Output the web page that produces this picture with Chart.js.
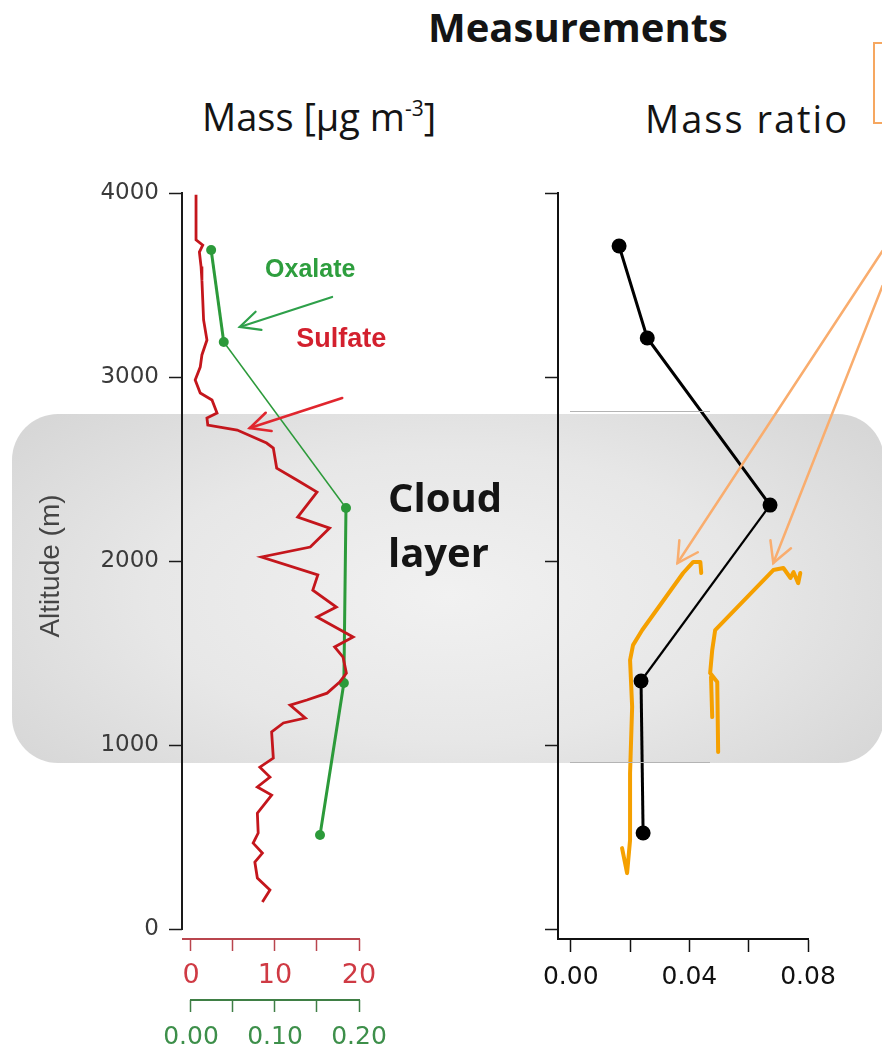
<!DOCTYPE html>
<html>
<head>
<meta charset="utf-8">
<script src="https://cdn.jsdelivr.net/npm/chart.js@4.4.1/dist/chart.umd.min.js"></script>
<style>
  body { margin:0; background:#fff; width:882px; height:1053px; overflow:hidden; position:relative; font-family:"Open Sans", sans-serif; }
  #band { position:absolute; left:12px; width:872px; border-radius:46px; z-index:0;
          background: radial-gradient(ellipse 62% 75% at 50% 52%, #f1f1f1 0%, #e7e7e7 55%, #d7d7d7 100%); }
  canvas { position:absolute; top:150px; z-index:1; }
  .txt { position:absolute; white-space:nowrap; color:#141414; z-index:3; }
  .bold { font-weight:700; }
  .thin { position:absolute; left:570px; width:140px; height:1px; background:#b4b4b4; z-index:2; }
</style>
</head>
<body>
<div id="band"></div>
<div class="thin" id="thinTop"></div>
<div class="thin" id="thinBase"></div>
<canvas id="massChart" width="420" height="903" style="left:0"></canvas>
<canvas id="ratioChart" width="362" height="903" style="left:520px"></canvas>

<div class="txt bold" style="left:428px; top:-1px; font-size:40px; line-height:55px;">Measurements</div>
<div class="txt" style="left:202px; top:90px; font-size:38px; line-height:52px;">Mass [μg m<span style="font-size:21px; position:relative; top:-15px;">-3</span>]</div>
<div class="txt" style="left:645px; top:92px; font-size:38px; line-height:52px; letter-spacing:2px;">Mass ratio</div>
<div class="txt bold" style="left:388px; top:469px; font-size:40px; line-height:55px;">Cloud<br>layer</div>
<div style="position:absolute; left:873px; top:42px; width:30px; height:78px; border:2px solid #f6a760; z-index:3;"></div>

<script>
// altitude (m) of the sulfate profile, top to bottom
const sulfateAlt = [3990, 3745, 3717, 3679, 3600, 3527, 3420, 3310, 3201, 3120, 3054, 2984, 2913, 2875, 2804, 2777,
                    2739, 2712, 2641, 2614, 2505, 2440, 2375, 2239, 2179, 2076, 2022, 1924, 1842, 1750, 1696, 1587,
                    1533, 1478, 1391, 1342, 1282, 1245, 1217, 1147, 1120, 1071, 929, 880, 826, 772, 728, 630,
                    522, 467, 413, 364, 277, 212, 147];
// sulfate mass (µg m-3)
const sulfateMass = [0.6, 0.6, 1.4, 1.0, 1.2, 1.3, 1.4, 1.5, 1.9, 1.3, 1.1, 0.5, 1.1, 2.5, 3.1, 1.9,
                     2.0, 5.5, 9.0, 9.8, 10.2, 12.6, 15.0, 12.7, 16.5, 14.2, 8.4, 15.1, 14.5, 17.3, 15.0, 19.3,
                     17.1, 18.1, 18.5, 17.7, 16.2, 13.8, 11.8, 13.6, 11.0, 9.6, 9.8, 8.2, 9.4, 7.9, 9.6, 7.9,
                     8.0, 7.4, 8.5, 7.6, 7.9, 9.4, 8.5];

// oxalate mass (µg m-3) at the sampling altitudes
const oxalateAlt = [3690, 3190, 2288, 1337, 511];
const oxalateMass = [0.024, 0.039, 0.1845, 0.182, 0.1536];

// oxalate / sulfate mass ratio
const ratioAlt = [3712, 3212, 2304, 1348, 522];
const ratioValue = [0.0163, 0.0258, 0.0672, 0.0237, 0.0244];

// hand drawn orange traces on the ratio panel
const traceAAlt = [1935, 1995, 1995, 1935, 1625, 1543, 1462, 1207, 848, 484, 304, 440];
const traceARatio = [0.0440, 0.0437, 0.0413, 0.0379, 0.0241, 0.0210, 0.0200, 0.0207, 0.0200, 0.0200, 0.0190, 0.0173];
const traceBAlt = [1935, 1880, 1940, 1908, 1962, 1951, 1625, 1516, 1391, 1342, 962, null, 1370, 1152];
const traceBRatio = [0.0774, 0.0767, 0.0751, 0.0741, 0.0717, 0.0683, 0.0487, 0.0477, 0.0470, 0.0494, 0.0497, null, 0.0473, 0.0477];

// cloud layer
const cloudTop = 2800;
const cloudBase = 900;

// tick labels
const altTicks = [0, 1000, 2000, 3000, 4000];
const sulfateTicks = [0, 5, 10, 15, 20];
const oxalateTicks = [0, 0.05, 0.10, 0.15, 0.20];
const ratioTicks = [0, 0.02, 0.04, 0.06, 0.08];

Chart.defaults.font.family = 'Liberation Sans';
const tickFont = 'DejaVu Sans';

const pts = (xs, ys) => xs.map((x, i) => ({x: x, y: ys[i]}));

function arrow(ctx, x1, y1, x2, y2, color, width, head, spread) {
    ctx.strokeStyle = color;
    ctx.lineWidth = width;
    ctx.lineCap = 'round';
    ctx.beginPath(); ctx.moveTo(x1, y1); ctx.lineTo(x2, y2); ctx.stroke();
    const a = Math.atan2(y1 - y2, x1 - x2);
    ctx.beginPath();
    ctx.moveTo(x2 + head * Math.cos(a - spread), y2 + head * Math.sin(a - spread));
    ctx.lineTo(x2, y2);
    ctx.lineTo(x2 + head * Math.cos(a + spread), y2 + head * Math.sin(a + spread));
    ctx.stroke();
}

// y scale shared by both panels
function altScale(showLabels, afterFitWidth, title) {
    return {
        type: 'linear', position: 'left', min: -54, max: 4000,
        afterBuildTicks: s => { s.ticks = altTicks.map(v => ({value: v})); },
        afterFit: s => { s.width = afterFitWidth; },
        ticks: {
            callback: v => showLabels ? v : '',
            font: {family: tickFont, size: 23}, color: '#3a3a3a', padding: 10
        },
        grid: {display: true, drawOnChartArea: false, drawTicks: true, tickLength: 13, tickColor: '#1a1a1a', tickWidth: 1.5},
        border: {display: !showLabels, color: '#111', width: 2},
        title: title
    };
}

// mass panel: axis lines and labels/arrows
const massDecor = {
    id: 'massDecor',
    afterDraw(chart) {
        const {ctx, scales: {y, xs, xo}} = chart;
        ctx.save();
        ctx.lineCap = 'butt';
        ctx.strokeStyle = '#1a1a1a'; ctx.lineWidth = 2;
        ctx.beginPath();
        ctx.moveTo(y.right, y.getPixelForValue(4000) - 1);
        ctx.lineTo(y.right, y.getPixelForValue(0) + 1);
        ctx.stroke();
        ctx.strokeStyle = '#b9454e';
        ctx.beginPath(); ctx.moveTo(xs.left, xs.top); ctx.lineTo(xs.getPixelForValue(20) + 1, xs.top); ctx.stroke();
        ctx.strokeStyle = '#3f7f45';
        ctx.beginPath(); ctx.moveTo(xo.getPixelForValue(0) - 1, xo.top); ctx.lineTo(xo.getPixelForValue(0.2) + 1, xo.top); ctx.stroke();

        ctx.textAlign = 'center'; ctx.textBaseline = 'middle';
        ctx.font = 'bold 25px "Liberation Sans"';
        ctx.fillStyle = '#2e9e3e';
        ctx.fillText('Oxalate', xs.getPixelForValue(14.2), y.getPixelForValue(3582));
        ctx.font = 'bold 27px "Liberation Sans"';
        ctx.fillStyle = '#d3202e';
        ctx.fillText('Sulfate', xs.getPixelForValue(17.9), y.getPixelForValue(3201));
        arrow(ctx, xs.getPixelForValue(16.8), y.getPixelForValue(3435), xs.getPixelForValue(5.8), y.getPixelForValue(3272), '#2ea04a', 2.2, 22, 0.45);
        arrow(ctx, xs.getPixelForValue(18.0), y.getPixelForValue(2886), xs.getPixelForValue(7.0), y.getPixelForValue(2723), '#e0262e', 2.6, 22, 0.45);
        ctx.restore();
    }
};

const ratioDecor = {
    id: 'ratioDecor',
    afterDraw(chart) {
        const {ctx, scales: {yr, xr}} = chart;
        ctx.save();
        arrow(ctx, xr.getPixelForValue(0.1051), yr.getPixelForValue(3685), xr.getPixelForValue(0.0360), yr.getPixelForValue(1989), '#f9ad6e', 2.5, 23, 0.5);
        arrow(ctx, xr.getPixelForValue(0.1051), yr.getPixelForValue(3495), xr.getPixelForValue(0.0683), yr.getPixelForValue(1989), '#f9ad6e', 2.5, 23, 0.5);
        ctx.restore();
    }
};

const massChart = new Chart(document.getElementById('massChart'), {
    type: 'scatter',
    data: {
        datasets: [{
            label: 'Sulfate',
            data: pts(sulfateMass, sulfateAlt),
            xAxisID: 'xs', yAxisID: 'y',
            showLine: true, borderColor: '#c4161c', borderWidth: 2.8,
            pointRadius: 0, tension: 0, clip: false
        }, {
            label: 'Oxalate',
            data: pts(oxalateMass, oxalateAlt),
            xAxisID: 'xo', yAxisID: 'y',
            showLine: true, borderColor: '#2c9a3a', backgroundColor: '#2c9a3a',
            pointRadius: 5, pointBorderWidth: 0, tension: 0, clip: false,
            segment: { borderWidth: c => c.p0DataIndex === 1 ? 1.5 : 3 }
        }]
    },
    options: {
        responsive: false, animation: false,
        layout: { padding: {top: 43, right: 61, left: 0, bottom: 0} },
        plugins: { legend: {display: false}, tooltip: {enabled: false} },
        scales: {
            y: altScale(true, 182, {display: true, text: 'Altitude (m)', color: '#444', font: {size: 28}, padding: {top: 34}}),
            xs: {
                type: 'linear', position: 'bottom', weight: 0, min: -1.07, max: 20,
                afterBuildTicks: s => { s.ticks = sulfateTicks.map(v => ({value: v})); },
                afterFit: s => { s.height = 61; },
                ticks: { callback: (v, i) => i % 2 === 0 ? v : '', autoSkip: false, maxRotation: 0,
                         font: {family: tickFont, size: 27}, color: '#cf3a44', padding: 9 },
                grid: {drawOnChartArea: false, tickLength: 12, tickColor: '#b9454e', tickWidth: 1.5},
                border: {display: false}
            },
            xo: {
                type: 'linear', position: 'bottom', weight: 1, min: -0.0107, max: 0.2,
                afterBuildTicks: s => { s.ticks = oxalateTicks.map(v => ({value: v})); },
                afterFit: s => { s.height = 53; },
                ticks: { callback: (v, i) => i % 2 === 0 ? v.toFixed(2) : '', autoSkip: false, maxRotation: 0,
                         font: {family: tickFont, size: 25}, color: '#3d8f4a', padding: 10 },
                grid: {drawOnChartArea: false, tickLength: 12, tickColor: '#3f7f45', tickWidth: 1.5},
                border: {display: false}
            }
        }
    },
    plugins: [massDecor]
});

const ratioChart = new Chart(document.getElementById('ratioChart'), {
    type: 'scatter',
    data: {
        datasets: [{
            label: 'Mass ratio',
            data: pts(ratioValue, ratioAlt),
            xAxisID: 'xr', yAxisID: 'yr',
            showLine: true, borderColor: '#000', backgroundColor: '#000',
            pointRadius: 7.5, pointBorderWidth: 0, tension: 0, clip: false,
            segment: { borderWidth: c => c.p0DataIndex === 2 ? 2.2 : 3 }
        }, {
            label: 'trace A',
            data: pts(traceARatio, traceAAlt),
            xAxisID: 'xr', yAxisID: 'yr',
            showLine: true, borderColor: '#f5a000', borderWidth: 4, borderCapStyle: 'round', borderJoinStyle: 'round',
            pointRadius: 0, tension: 0, clip: false
        }, {
            label: 'trace B',
            data: pts(traceBRatio, traceBAlt),
            xAxisID: 'xr', yAxisID: 'yr',
            showLine: true, spanGaps: false, borderColor: '#f5a000', borderWidth: 4, borderCapStyle: 'round', borderJoinStyle: 'round',
            pointRadius: 0, tension: 0, clip: false
        }]
    },
    options: {
        responsive: false, animation: false,
        layout: { padding: {top: 43, right: 74, left: 0, bottom: 0} },
        plugins: { legend: {display: false}, tooltip: {enabled: false} },
        scales: {
            yr: altScale(false, 38, {display: false}),
            xr: {
                type: 'linear', position: 'bottom', min: -0.0043, max: 0.08,
                afterBuildTicks: s => { s.ticks = ratioTicks.map(v => ({value: v})); },
                afterFit: s => { s.height = 114; },
                ticks: { callback: (v, i) => i % 2 === 0 ? v.toFixed(2) : '', autoSkip: false, maxRotation: 0,
                         font: {family: tickFont, size: 25}, color: '#111', padding: 10 },
                grid: {drawOnChartArea: false, tickLength: 13, tickColor: '#111', tickWidth: 1.5},
                border: {display: true, color: '#111', width: 2}
            }
        }
    },
    plugins: [ratioDecor]
});

// place the cloud band from the altitude scale
const yPix = massChart.scales.y;
const canvasTop = 150;
const band = document.getElementById('band');
const bandTop = canvasTop + yPix.getPixelForValue(cloudTop);
const bandBottom = canvasTop + yPix.getPixelForValue(cloudBase);
band.style.top = bandTop + 'px';
band.style.height = (bandBottom - bandTop) + 'px';
document.getElementById('thinTop').style.top = (bandTop - 3) + 'px';
document.getElementById('thinBase').style.top = (bandBottom - 1) + 'px';
</script>
</body>
</html>
